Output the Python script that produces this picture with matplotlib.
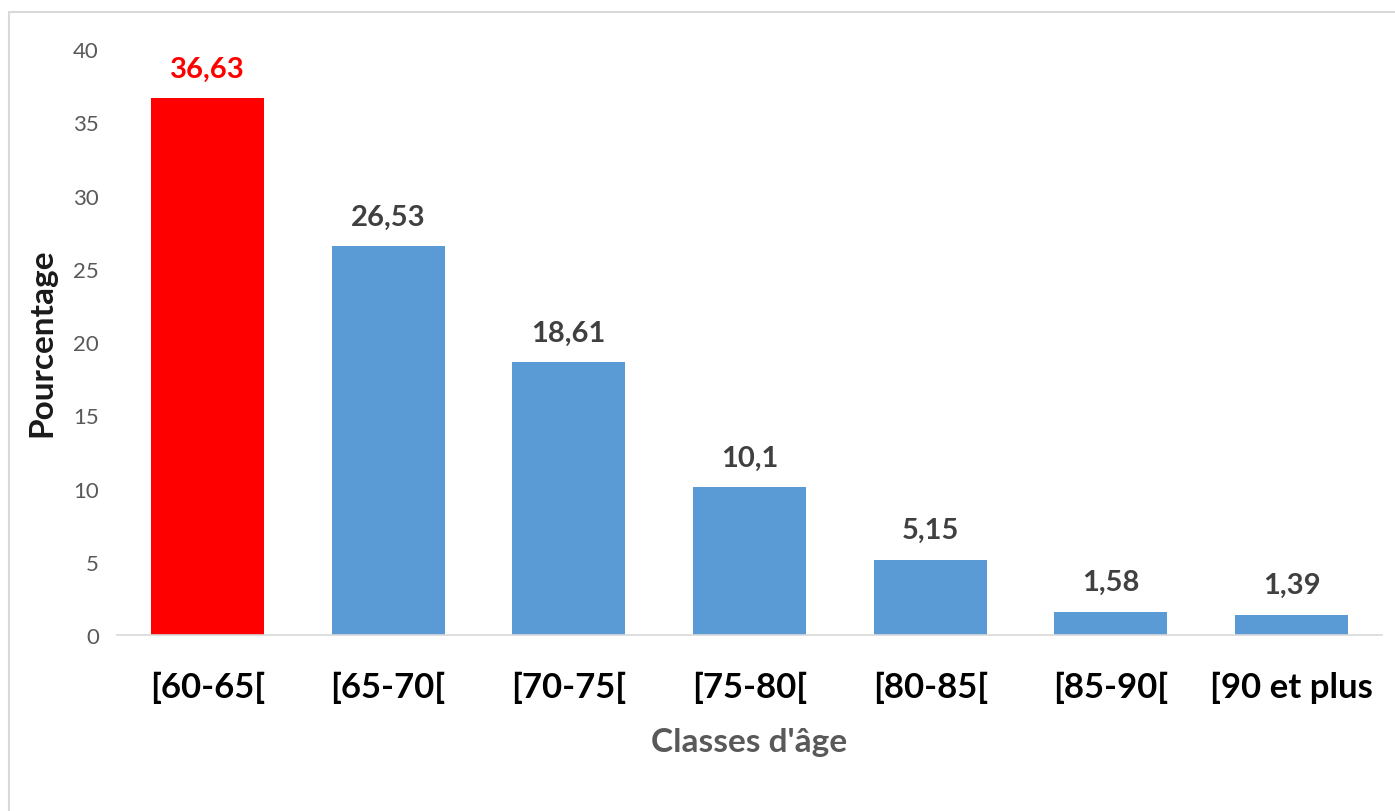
import matplotlib.pyplot as plt
from matplotlib.patches import Rectangle

categories = ["[60-65[", "[65-70[", "[70-75[", "[75-80[", "[80-85[", "[85-90[", "[90 et plus"]
values = [36.63, 26.53, 18.61, 10.1, 5.15, 1.58, 1.39]
labels = ["36,63", "26,53", "18,61", "10,1", "5,15", "1,58", "1,39"]
colors = ["#FF0000"] + ["#5B9BD5"] * 6
label_colors = ["#FF0000"] + ["#404040"] * 6

plt.rcParams['font.family'] = ['Lato', 'DejaVu Sans']

fig = plt.figure(figsize=(13.95, 8.12), dpi=100)
ax = fig.add_axes([0.0839, 0.2167, 0.9068, 0.7217])

x = list(range(len(categories)))
ax.bar(x, values, width=0.625, color=colors)
for xi, v, lab, c in zip(x, values, labels, label_colors):
    ax.annotate(lab, (xi, v), xytext=(0, 12), textcoords="offset points",
                ha="center", va="bottom", fontsize=21, fontweight="bold", color=c)

ax.set_xlim(-0.5, len(categories) - 0.5)
ax.set_ylim(0, 40)
ax.set_yticks(range(0, 41, 5))
ax.tick_params(axis="y", length=0, labelsize=16, labelcolor="#595959", pad=13)
ax.set_xticks(x)
ax.set_xticklabels(categories, fontsize=25, fontweight="bold")
ax.tick_params(axis="x", length=0, pad=26)

for s in ["top", "right", "left"]:
    ax.spines[s].set_visible(False)
ax.spines["bottom"].set_color("#D9D9D9")
ax.spines["bottom"].set_linewidth(1.2)

ax.set_ylabel("Pourcentage", fontsize=24, fontweight="bold", color="#1a1a1a", labelpad=12)
ax.set_xlabel("Classes d'âge", fontsize=24, fontweight="bold", color="#595959", labelpad=17)

fig.patches.append(Rectangle((9 / 1395, -0.01), 1.0, 1 - 13 / 812 + 0.01, transform=fig.transFigure,
                             fill=False, edgecolor="#D9D9D9", linewidth=1.5))

fig.savefig("out.png", dpi=100)
